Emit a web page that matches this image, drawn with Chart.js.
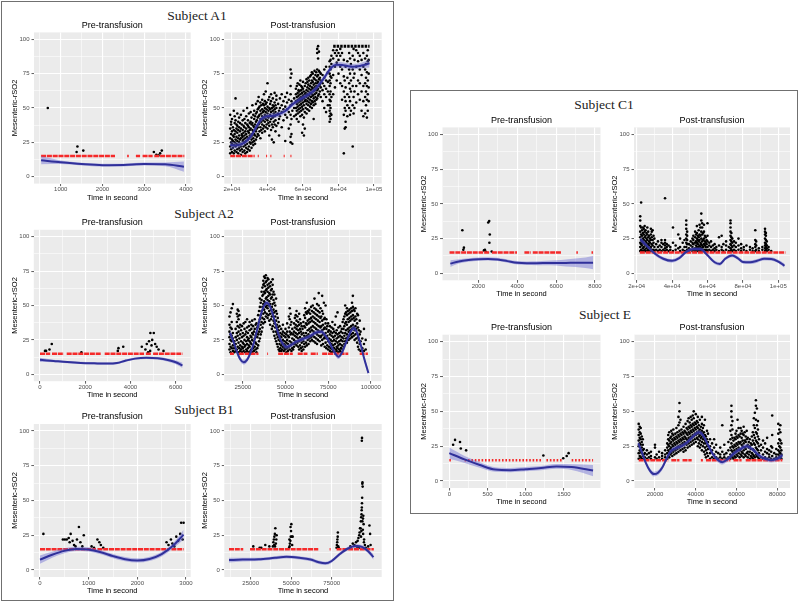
<!DOCTYPE html>
<html><head><meta charset="utf-8">
<script src="https://cdn.jsdelivr.net/npm/chart.js@4.4.0/dist/chart.umd.min.js"></script>
<style>
body{margin:0;width:800px;height:605px;position:relative;background:#fff;overflow:hidden;font-family:"Liberation Sans",Arial,sans-serif}
.box{position:absolute;border:1px solid #707070;box-sizing:border-box}
.subj{position:absolute;width:200px;text-align:center;font-family:"Liberation Serif","Times New Roman",serif;font-size:13.5px;line-height:16px;height:16px;color:#222;white-space:nowrap}
canvas{position:absolute}
</style></head><body>
<div class="box" style="left:1px;top:1px;width:393px;height:600px"></div>
<div class="box" style="left:410px;top:90px;width:388px;height:424px"></div>
<div class="subj" style="left:97px;top:8px">Subject A1</div>
<div class="subj" style="left:104px;top:206px">Subject A2</div>
<div class="subj" style="left:104px;top:402px">Subject B1</div>
<div class="subj" style="left:504px;top:97px">Subject C1</div>
<div class="subj" style="left:505px;top:307px">Subject E</div>
<script>
const RED_LEVEL = 15;
const Y_TICKS = [0,25,50,75,100];
const Y_LABELS = ['0','25','50','75','100'];

// ---------- Subject A1 ----------
const A1_PRE_XT = [1000,2000,3000,4000];
const A1_PRE_XL = ['1000','2000','3000','4000'];
const A1_PRE_PTS = [[690,50],[1400,22],[1380,18],[1540,19],[3230,18],[3290,16],[3340,15.5],[3380,17],[3420,19]];
const A1_PRE_RED = [[530,2300],[2590,2630],[2800,2900],[2960,3200],[3240,3960]];
const A1_PRE_FIT = [[530,12,9,15],[1000,10.5,9.2,11.8],[1500,9.2,8.2,10.2],[2000,8.4,7.4,9.4],[2500,8.5,7.5,9.5],[3000,9.2,8.1,10.3],[3500,9,7.6,10.4],[3950,7.3,3.6,11]];

const A1_POST_XT = [20000,40000,60000,80000,100000];
const A1_POST_XL = ['2e+04','4e+04','6e+04','8e+04','1e+05'];
const A1_POST_COLS = [
[19000,17,22,28,35,45],[19500,20,25,31,38,40],[20000,18,24,27,33,42],[20500,21,26,30,36],[21000,17,23,29,34,48],
[21500,19,25,31,39,44],[22000,22,27,33,41,57],[22500,18,24,29,35,38],[23000,20,26,32,37,46],[23500,17,23,28,34,40],
[24000,21,25,30,36,43],[24500,19,27,33,39],[25000,16,22,28,35,45],[25500,20,24,31,38,30],[26000,18,26,29,34,41],
[26500,22,27,32,37,48],[27000,19,25,30,36,42],[27500,17,23,28,33,39],[28000,21,26,31,35,44],[28500,18,24,29,38,50],
[29000,20,27,33,37,41],[29500,22,28,32,36,46],[30000,19,25,30,34,39],[30500,24,29,35,40,47],[31000,21,27,31,38,43],
[31500,25,30,34,39,52],[32000,23,28,33,37,45],[32500,26,31,36,42,48],[33000,24,30,38,44],[33500,27,33,40,46,53],
[34000,29,35,41,47],[34500,31,36,43,49,55],[35000,30,38,44,50,58],[35500,33,39,45,51],[36000,28,36,42,48,54],
[36500,34,40,46,52],[37000,32,38,44,49,56],[37500,35,41,47,53],[38000,37,43,48,52,60],[38500,33,40,45,50,55],
[39000,36,42,47,53,62],[39500,38,44,49,54],[40000,35,41,46,51,68],[40500,39,43,48,56],[41000,30,37,44,50,58],
[41500,40,45,49,53],[42000,34,42,47,55,60],[42500,27,38,44,50],[43000,36,43,48,52,57],[43500,25,40,46,51],
[44000,38,44,49,54,61],[44500,33,41,47,52],[45000,37,45,50,56,59],[46000,39,46,53],[46500,30,42,48],
[47000,44,50,57],[48000,36,47,52,60],[49000,41,49,55],[50000,26,45,51,58],[51000,43,49,54,61],[52000,35,47,56],
[53000,25,29,38,45,52,60,66,72,78],[53500,31,42,55,75],[54000,24,48,53],[55000,44,50,57],
[56000,45,50,55,60,64],[56500,42,48,53,58,66],[57000,46,51,56,61,68],[57500,40,49,54,59,63],[58000,47,52,57,62,67],
[58500,44,50,55,60,70],[59000,48,53,58,63,66],[59500,32,45,51,56,61,65],[60000,38,49,54,59,64,69],[60500,30,43,52,57,62],
[61000,35,47,55,60,66],[61500,50,56,61,68],[62000,46,53,58,63,71],[62500,49,55,60,65,69],[63000,52,57,62,67,72],
[63500,48,54,59,64,70],[64000,51,56,61,66,73],[64500,53,58,63,68,74],[65000,50,55,60,65,70,76],[65500,54,59,64,69,75],
[66000,42,52,57,62,67,72],[66500,55,60,65,71,77],[67000,53,58,63,68,74],[67500,56,61,66,70,76],[68000,57,63,68,73,78,90,93],
[68500,59,64,69,74,86,95],[69000,60,66,71,77,91],[69500,62,67,72,76],[70000,58,65,70,75],[71000,55,63,68,74],
[72000,50,60,66,72,78],[73000,47,58,64,70,80],[74000,52,62,69,76],
[75000,40,44,48,52,56,60,66,70,75,80,84],[75500,42,46,50,55,62,68,73,78,85],[76000,45,58,72,82,88],
[77000,60,74,86,92],[78000,65,80,90],[79000,70,83,88,92],[80000,75,85,90],[81000,68,80,88,93],
[82000,56,66,78,90],[83000,45,62,73,85,17],[83500,35,50,58,70],[84000,40,48,55,65,80,36],[85000,44,52,60,72,84],
[86000,50,58,68,78,90],[86500,45,55,64,75,86],[87000,48,62,70,82],[88000,22,52,66,78,88],[88500,46,58,72,93],
[89000,50,62,75,85],[90000,54,66,80,92],[91000,60,70,84,90],[92000,56,68,78,88],[93000,48,62,74,85],
[94000,44,55,66,80,90],[95000,46,58,68,78,86],[95500,52,62,72,82],[96000,43,56,66,76,88],[96500,48,60,70,84,92],[97000,55,65,75,85]
];
const A1_POST_RED = [[19000,32800],[34500,35100],[39200,39800],[41600,42200],[49100,49700],[52900,53500]];
const A1_POST_ROW95 = [[77000,97500]];
const A1_POST_FIT = [[19000,23,20,26],[22000,22.8,20.6,25],[25000,23.5,21.5,25.5],[28000,25.8,23.8,27.8],[31000,30,28,32],[34000,37,35,39],[37000,42.5,40.5,44.5],[40000,44,42,46],[43000,44.3,42.3,46.3],[46000,45.3,43.3,47.3],[50000,47.8,45.8,49.8],[54000,52.5,50.5,54.5],[58000,56,54,58],[62000,59,57,61],[66000,62.5,60.5,64.5],[70000,68.5,66.5,70.5],[73000,74,72,76],[76000,79.5,77.5,81.5],[79000,81.5,79.5,83.5],[82000,81.3,79.3,83.3],[85000,80.5,78.5,82.5],[88000,80,78,82],[91000,80.3,78.3,82.3],[94000,81.2,79,83.4],[97500,82.5,79.5,85.5]];

// ---------- Subject A2 ----------
const A2_PRE_XT = [0,2000,4000,6000];
const A2_PRE_XL = ['0','2000','4000','6000'];
const A2_PRE_PTS = [[220,17],[270,17],[420,18],[520,22],[1830,16],[3440,17],[3470,19],[3680,20],[4500,20],[4660,18],[4720,22],[4780,16],[4820,24],[4870,17],[4880,30],[4930,21],[4960,25],[5030,30],[5090,22],[5160,20],[5240,18],[5460,17]];
const A2_PRE_RED = [[0,450],[530,1050],[1180,2700],[2860,4600],[4680,4900],[5000,6300]];
const A2_PRE_FIT = [[0,10.5,9,12],[600,9.7,8.8,10.6],[1200,8.9,8.1,9.7],[1800,8.3,7.5,9.1],[2400,8,7.2,8.8],[3000,7.8,7,8.6],[3400,8.2,7.4,9],[3800,10,9.2,10.8],[4200,11.4,10.6,12.2],[4700,12,11.2,12.8],[5200,11.6,10.7,12.5],[5700,10.2,9,11.4],[6000,8.8,7.3,10.3],[6300,6.5,4.6,8.4]];

const A2_POST_XT = [25000,50000,75000,100000];
const A2_POST_XL = ['25000','50000','75000','100000'];
const A2_POST_COLS = [
[17200,18,22,27,31,36,42],[17800,16,20,25,29,34,45],[18500,19,24,28,33,38,48],[19200,17,21,26,30,51],[20000,16,19,24],
[20800,17,22,27,33],[21500,18,25,30,38,44],[22000,20,28,35,42,47],[22500,16,23,31,40,46],[23000,19,26,34,43],
[23500,17,21,29,36],[24000,18,24,32],[24500,16,20,27,35],[25000,19,23,30],[25500,17,22,28,37],[26000,20,25,33],
[26500,16,21,29,38],[27000,18,24,31],[27500,17,22,27,34,40],[28000,19,25,30],[28500,16,21,26,35],[29000,20,24,32,38],
[29500,17,23,28],[30000,18,22,27,33,36],[30500,16,25,30,39],[31000,19,21,29,35],[31500,17,24,31],[32000,20,26,33,40],
[32500,18,23,28,36],[33000,16,22,30,37],[33500,19,27,34],[34000,21,29,35,43],[34500,24,31,38,46],[35000,26,33,40,49,55],
[35500,29,36,43,52],[36000,31,38,46,54,60],[36500,34,41,49,57,63],[37000,37,44,51,58,65,68],[37500,40,47,53,60,66,71],
[38000,38,45,52,59,64,70],[38500,42,49,55,61,67,72],[39000,44,50,56,62,68],[39500,41,48,54,60,65,70],[40000,43,50,57,63,69],
[40500,39,46,53,59,66],[41000,36,44,51,58,64],[41500,40,47,55,61,67],[42000,33,42,49,56,62],[42500,35,44,51,58,65,69],
[43000,31,39,47,54,60],[43500,28,37,45,52,58],[44000,26,34,42,50],[44500,24,31,39,46,55],[45000,22,29,36,44],
[45500,20,27,34,41],[46000,18,25,32,38],[46500,17,22,28,35],[47000,19,24,30],[47500,17,21,27,33],[48000,18,23,29],
[48500,20,25,31,36],[49000,17,22,28],[49500,19,24,30],[50000,18,21,27,33],[50500,16,23,29],[51000,19,25,31,37],
[51500,17,22,28],[52000,20,27,34,42],[52500,18,24,31,40,48],[53000,21,29,36,44],[53500,17,23,30,38],[54000,19,26,33],
[54500,18,22,29],[55000,20,25,31,37],[55500,22,28,34,41],[56000,24,30,36,43],[56500,21,27,33,39,46],[57000,23,29,35,42],
[57500,20,26,32,38],[58000,18,24,30,36,44],[58500,21,27,33,40],[59000,19,25,31,37],[59500,17,23,29,35],[60000,20,26,33],
[60500,18,24,30,38],[61000,22,28,35,43],[61500,20,27,34,41,48],[62000,23,30,37,45],[62500,21,28,36,44,52],[63000,25,32,39,46],
[63500,22,29,37,45],[64000,26,33,40,47],[64500,24,31,38,44],[65000,27,34,41,49],[65500,25,32,39,46],[66000,28,35,42,50],
[66500,24,31,38,45],[67000,27,34,41,48,55],[67500,23,30,37,44],[68000,26,33,40,47],[68500,22,29,36,43,51],[69000,25,32,39,46],
[69500,28,35,42,50,59],[70000,24,31,38,45],[70500,27,34,41,48],[71000,21,28,35,42],[71500,25,32,39,46,57],[72000,22,29,36,44],
[72500,26,33,40,52],[73000,20,27,34,41],[73500,23,30,37,50],[74000,19,26,33,40],[74500,21,28,35],[75000,18,24,31,37],
[75500,20,26,32],[76000,17,23,29,35],[76500,19,25,31],[77000,16,22,28,34],[77500,18,24,30,38],[78000,17,21,27,33],
[78500,19,25,31],[79000,16,22,28,36],[79500,18,24,30,42],[80000,17,20,26,32],[80500,19,23,29,45],[81000,16,21,27,34],
[81500,18,24,30],[82000,17,22,28,35],[82500,19,25,31],[83000,16,21,27,33],[83500,18,24,30,38],[84000,20,26,33,40],
[84500,22,28,35,42],[85000,24,30,37,44,50],[85500,26,32,38,45],[86000,23,29,36,43,48],[86500,27,33,40,46],[87000,25,31,38,44],
[87500,28,34,41,47],[88000,26,32,39,45],[88500,29,35,42,48],[89000,27,33,40,46,52],[89500,30,36,43,49,57],[90000,28,34,41,47],
[90500,25,32,39,46],[91000,29,35,42,48],[91500,26,33,40],[92000,23,30,37,44],[92500,20,27,34,43],[93000,18,25,32],
[93500,22,29,39],[94000,17,24,31],[95000,19,26],[96000,17,22,33],[97000,18,25]
];
const A2_POST_RED = [[17500,19800],[22700,34200],[39300,39800],[45700,54300],[57200,62900],[64800,69000],[71500,86800],[93500,98300]];
const A2_POST_FIT = [[17500,30,27.5,32.5],[19500,24,22,26],[21500,16.5,14.8,18.2],[23500,11,9.3,12.7],[25500,8.8,7.1,10.5],[27500,10.5,8.8,12.2],[29500,15.5,13.8,17.2],[31500,23,21.3,24.7],[33500,33,31.3,34.7],[35500,43,41.3,44.7],[37500,50,48.3,51.7],[39000,52,50.3,53.7],[40500,50.5,48.8,52.2],[42500,44,42.3,45.7],[44500,35,33.3,36.7],[46500,27,25.3,28.7],[48500,22,20.3,23.7],[50500,19.8,18.1,21.5],[53000,21,19.3,22.7],[56000,23.5,21.8,25.2],[60000,25.5,23.8,27.2],[64000,27.5,25.8,29.2],[68000,30.5,28.8,32.2],[71000,31,29.3,32.7],[74000,27,25.3,28.7],[77000,20,18.3,21.7],[79500,14.5,12.8,16.2],[81000,12.8,11.1,14.5],[83000,15.5,13.8,17.2],[85500,23,21.3,24.7],[88000,30.5,28.8,32.2],[90000,33.5,31.8,35.2],[92000,30,28.3,31.7],[94000,22,20.2,23.8],[96000,12,10,14],[98600,1,-1.5,3.5]];

// ---------- Subject B1 ----------
const B1_PRE_XT = [0,1000,2000,3000];
const B1_PRE_XL = ['0','1000','2000','3000'];
const B1_PRE_PTS = [[70,26],[470,22],[510,22],[550,22],[590,23],[610,20],[630,26],[670,21],[700,18],[730,17],[760,22],[800,31],[830,20],[870,17],[900,25],[1060,17],[1110,16],[1180,22],[1220,20],[1250,18],[1300,16],[2600,20],[2640,18],[2690,22],[2720,19],[2760,17],[2800,24],[2840,21],[2880,26],[2900,34],[2950,34],[2930,22]];
const B1_PRE_RED = [[0,1150],[1180,2650],[2700,2950]];
const B1_PRE_FIT = [[0,7.5,4.5,10.5],[250,11,8.8,13.2],[500,13.8,12,15.6],[750,15.2,13.7,16.7],[1000,14.8,13.3,16.3],[1250,12.8,11.3,14.3],[1500,10,8.5,11.5],[1750,7.8,6.3,9.3],[2000,6.9,5.4,8.4],[2250,8,6.5,9.5],[2500,11.5,9.8,13.2],[2750,18,16,20],[2950,25.5,22,29]];

const B1_POST_XT = [25000,50000,75000];
const B1_POST_XL = ['25000','50000','75000'];
const B1_POST_PTS = [[26600,17],[30500,16],[31500,16],[34000,18],[36500,17],
[38700,17],[39000,20],[39300,22],[39600,24],[39900,26],[40200,30],[40000,17],[40500,19],[40800,22],[41000,25],[39500,18],
[48700,16],[49000,17],[49200,19],[49500,21],[49700,24],[49900,28],[50100,33],[50400,24],[50600,18],[49600,31],[50900,24],[48900,22],
[78000,16],[78200,18],[78400,20],[78500,22],[78700,24],[78800,27],[79000,17],[79300,16],
[86500,17],[88000,19],[89000,18],[90000,20],[90500,17],[91000,21],[91500,23],[92000,25],[92500,30],[93000,35],[93200,38],[93400,40],[93500,43],[93600,45],[93700,48],[93800,52],[93900,62],[94000,63],[94100,60],[93600,93],[93700,95],[92800,30],[93300,28],[94300,37],[94500,39],[94700,33],[95000,22],[95500,18],[96000,16],[92200,27],[91800,16],[90800,17],[94200,29],[93100,24],[94900,20],[93900,35],[94400,26],
[98300,32],[98700,26],[99000,18],[97500,17]];
const B1_POST_RED = [[11600,20400],[24600,66700],[73700,74300],[78000,101000]];
const B1_POST_FIT = [[11600,7.2,5.5,8.9],[20000,7.5,6.2,8.8],[30000,7.7,6.5,8.9],[40000,8.8,7.6,10],[47000,9.5,8.3,10.7],[55000,8.8,7.6,10],[62000,7.6,6.4,8.8],[67000,5.6,4.4,6.8],[71000,4.8,3.6,6],[75000,6.5,5.3,7.7],[80000,11.5,10.2,12.8],[85000,15.5,14.2,16.8],[90000,17.3,16,18.6],[94000,16.5,15.1,17.9],[97500,13.5,12,15],[100800,9.3,7.3,11.3]];

// ---------- Subject C1 ----------
const C1_PRE_XT = [2000,4000,6000,8000];
const C1_PRE_XL = ['2000','4000','6000','8000'];
const C1_PRE_PTS = [[1180,31],[1230,17],[1260,18.5],[2290,16.5],[2340,17],[2400,15.5],[2510,36.6],[2560,37.6],[2590,28],[2570,22],[2690,15.7]];
const C1_PRE_RED = [[520,2250],[2300,2600],[2700,3990],[4370,4700],[4800,6250],[7040,7120],[7820,7900]];
const C1_PRE_FIT = [[560,7,4.5,9.5],[1000,8.6,7,10.2],[1500,9.6,8.3,10.9],[2000,10.2,9,11.4],[2500,10.4,9.2,11.6],[3000,10,8.8,11.2],[3500,8.8,7.6,10],[4000,7.6,6.4,8.8],[4500,7.3,6,8.6],[5000,7.3,5.9,8.7],[5500,7.4,5.8,9],[6000,7.5,5.6,9.4],[6500,7.5,5,10],[7000,7.6,4.5,10.7],[7500,7.6,3.8,11.4],[7900,7.6,3,12.4]];

const C1_POST_XT = [20000,40000,60000,80000,100000];
const C1_POST_XL = ['2e+04','4e+04','6e+04','8e+04','1e+05'];
const C1_POST_COLS = [
[22000,16,19,22,26,30,34,38,41],[22500,17,21,24,28,33,51],[23000,16,20,23,27,31],[23500,18,22,25,29,33],[24000,16,19,24,28,32],
[24500,17,21,26,30,34],[25000,16,20,23,27,31],[25500,18,22,25,29],[26000,16,19,24,28,33],[26500,17,21,26,30],[27000,16,20,23,27],
[27500,18,22,25],[28000,16,19,24,28,32],[28500,17,21,26,30],[29000,16,20,24,31],[29500,17,22,27],[30000,16,19,25],[31000,17,21],
[32000,16,19,23],[33000,17,20],[34000,16,19,22,24],[35000,17,21],[36000,16,18,20,22,24,54],[37000,17,19,21],[38000,16,20],
[39000,17,19],[40500,16,22,33],[42000,17,20],[43500,18,28],[44500,16,19,25],[46000,17,22],[47000,16,19,24],
[48000,16,19,22,25,28,32,35,38],[48500,17,21,24,27,30],[49500,16,18,21],[50500,17,20,23],[51500,16,19,22,25],[52000,17,21,24,27],
[53000,16,18,22,26,30],[53500,17,20,23,28],[54000,16,19,22,25,29,34],[54500,18,21,24,27],[55000,16,19,23,26,31],[55500,17,20,24,28,35],
[56000,16,19,22,27,33],[56500,18,21,25,30,38,43],[57000,16,20,23,28,33,36],[57500,17,19,24,29],[58000,16,21,25,30,35],[58500,17,20,23,27],
[59000,16,19,22,26],[59500,17,21,24],[60000,16,19,23,27,36],[61000,17,20,22],[62000,16,19,23],[63000,17,20],[64000,16,18,21],
[65000,17,19],[66500,16,20,26],[68000,17,19,27],[69000,16,21],[70500,17,20,23],[72000,16,19],
[73000,16,18,21,24,27,30,33,36,38],[73500,17,20,23,26,29],[74000,16,19,22,25],[75000,17,20,23],[76000,16,19,22],[77500,17,20,25],
[79000,16,18,21],[80500,17,19],[82000,16,20],[84000,17,19],[85500,16,18],[87000,16,19,21,24,31],[87500,17,20,23],[89000,16,18],
[91000,17,19],[92500,16,18,20,22,25,28,30,32],[93000,17,19,21,24,27,29],[93500,16,18,20,23],[94500,17,19],[96000,16]
];
const C1_POST_RED = [[21800,104000]];
const C1_POST_FIT = [[22000,24.5,22.5,26.5],[26000,19.5,18,21],[30000,14.5,13.2,15.8],[35000,10.5,9.2,11.8],[40000,9,7.7,10.3],[44000,11,9.7,12.3],[48000,15.5,14.2,16.8],[52000,17.5,16.2,18.8],[56000,17.5,16.2,18.8],[60000,13,11.7,14.3],[64000,8,6.7,9.3],[67000,6.8,5.5,8.1],[70000,10.5,9.2,11.8],[74000,12.8,11.5,14.1],[77000,11,9.7,12.3],[80000,8.2,6.9,9.5],[84000,8,6.7,9.3],[88000,9,7.7,10.3],[92000,10.5,9.2,11.8],[96000,10.3,9,11.6],[100000,8.5,7.2,9.8],[103500,5.5,4,7]];

// ---------- Subject E ----------
const E_PRE_XT = [0,500,1000,1500];
const E_PRE_XL = ['0','500','1000','1500'];
const E_PRE_PTS = [[50,26],[75,29.5],[140,28],[150,23.3],[220,22],[1230,18.3],[1490,16.3],[1535,18],[1560,20]];
const E_PRE_RED = [[0,45],[200,1200],[1270,1470],[1600,1880]];
const E_PRE_FIT = [[0,20,16,24],[200,15.5,13,18],[400,11.5,9.5,13.5],[600,8.2,6.6,9.8],[800,7.8,6.3,9.3],[1000,8.5,7,10],[1200,9.3,7.8,10.8],[1400,10.5,8.8,12.2],[1600,10,8,12],[1880,7.5,3.5,11.5]];

const E_POST_XT = [20000,40000,60000,80000];
const E_POST_XL = ['20000','40000','60000','80000'];
const E_POST_COLS = [
[12000,16,20,25,29,33,37,41],[12500,18,22,27,31,35,39],[13000,17,21,26,30,34,38],[13500,16,20,24,28,32],[14000,18,22,26,30],
[14500,16,19,23],[15000,17,20],[16000,16,19,22],[17000,17,20],[18000,16,18,21],[20000,17,24,26],[20800,16,19],[22000,17,21],
[23500,16,18,20],[25000,17,19,22],[26000,16,20,24,27],[26500,18,22,26,30,33],[27000,17,21,25,29,35],[27500,19,23,27,31],
[28000,20,24,28,32,36],[28500,18,22,26,30,34],[29000,21,25,29,33,37],[29500,19,23,27,31],[30000,22,26,30,34],[30500,20,24,28,32,38],
[31000,23,27,31,35],[31500,21,25,29,33,40,46],[32000,24,28,32,36,42,50,56],[32500,22,26,30,34,44],[33000,25,29,33,37],
[33500,23,27,31,35],[34000,21,26,30,34,39],[34500,24,28,32,36],[35000,22,27,31,35,41],[35500,26,30,34,38],[36000,24,29,33,37,43],
[36500,27,31,35,39,45],[37000,25,30,34,38,42],[37500,28,32,36,40,46],[38000,26,31,35,39,44],[38500,29,33,37,41,47],
[39000,27,32,36,40,45,50],[39500,30,34,38,42],[40000,28,33,37,41,48],[40500,31,35,39,43],[41000,25,30,34,38,42,46],
[41500,27,32,36,40],[42000,24,29,33,37,44],[42500,26,31,35,39],[43000,22,28,32,36,41,46],[43500,25,30,34,38],[44000,21,27,31,35,40],
[44500,19,24,29,33,44],[45000,17,22,27,32],[45500,20,25,30,36],[46000,18,23,28,34],[47000,16,20,25,30],[48000,17,22,27],
[49000,16,19,24,30],[50000,17,21,26],[51000,16,20],[52000,17,19,24],[53000,16,21,40],[54000,17,19,26],[55000,16,20],[56000,17,22,28],
[57000,16,19,24,30,36],[57500,18,22,27,33,40,46,50,54],[58000,17,21,25,31,37,43],[58500,16,20,24,29],[59000,18,22,26,31],
[59500,17,21,25,30,34],[60000,19,23,27,32,36],[60500,18,22,26,31,44],[61000,20,24,28,33,38],[61500,17,22,27,32],[62000,19,23,28,34,38],
[62500,18,21,26,31,36],[63000,20,25,29,34],[63500,17,22,27,33,39],[64000,19,24,29,35],[64500,18,23,28,32],[65000,20,25,30,36],
[65500,17,21,26,31],[66000,19,24,28],[66500,16,21,25,30],[67000,18,23,27],[67500,17,20,26,32],[68000,16,19,23,29,35],
[68500,18,22,27,33,40,45],[69000,17,21,26,31,38,49],[69500,19,24,29,35,44,54,58],[70000,18,23,28,34,40,52],[70500,17,22,27,32,37,43],
[71000,16,20,25,30],[72000,17,22,26],[73000,16,19,24,29],[74000,17,21,27],[75000,16,20,23,31],[76000,17,19,22],[77000,16,21,25],
[77500,18,24,33,47],[78500,16,20],[79500,17,19,23],[80500,16,19,22,27,34,41],[81000,18,21,25,30,37],[81500,17,20,24,29,35,40],[82000,16,19,22,27]
];
const E_POST_RED = [[12000,26500],[28000,32000],[33500,38000],[42500,43500],[45000,57000],[58500,62500],[64500,82500]];
const E_POST_FIT = [[11800,27,24.5,29.5],[13500,21,19,23],[15500,13,11.3,14.7],[17500,7.5,5.8,9.2],[19500,5,3.3,6.7],[21500,6,4.3,7.7],[23500,9.5,7.8,11.2],[25500,15.5,13.8,17.2],[27500,21,19.3,22.7],[30000,23.5,21.8,25.2],[33000,25,23.3,26.7],[36000,28,26.3,29.7],[39000,32.5,30.8,34.2],[41500,35,33.3,36.7],[43500,33,31.3,34.7],[46000,26,24.3,27.7],[48500,19,17.3,20.7],[51000,15,13.3,16.7],[53000,13.5,11.8,15.2],[55500,15.5,13.8,17.2],[58500,19.5,17.8,21.2],[62000,23,21.3,24.7],[65000,25,23.3,26.7],[68000,22.5,20.8,24.2],[71000,18.5,16.8,20.2],[74000,16,14.3,17.7],[77000,15,13.3,16.7],[80000,16,14.3,17.7],[82600,18.5,16.5,20.5]];

// ---------- panel layout (page pixels of each plot area) and x ranges ----------
const PANELS = [
 {title:'Pre-transfusion', box:[34,32.4,190.7,183.6], range:[360,4112], xt:A1_PRE_XT, xl:A1_PRE_XL, pts:A1_PRE_PTS, red:A1_PRE_RED, fit:A1_PRE_FIT},
 {title:'Post-transfusion', box:[224.3,32.4,381.7,183.6], range:[15660,104340], xt:A1_POST_XT, xl:A1_POST_XL, cols:A1_POST_COLS, red:A1_POST_RED, fit:A1_POST_FIT, row95:A1_POST_ROW95},
 {title:'Pre-transfusion', box:[33.8,229.8,190.7,381.2], range:[-274,6662], xt:A2_PRE_XT, xl:A2_PRE_XL, pts:A2_PRE_PTS, red:A2_PRE_RED, fit:A2_PRE_FIT},
 {title:'Post-transfusion', box:[224.3,229.8,381.7,381.2], range:[14160,106390], xt:A2_POST_XT, xl:A2_POST_XL, cols:A2_POST_COLS, red:A2_POST_RED, fit:A2_POST_FIT},
 {title:'Pre-transfusion', box:[33.8,424,190.7,577], range:[-127,3096], xt:B1_PRE_XT, xl:B1_PRE_XL, pts:B1_PRE_PTS, red:B1_PRE_RED, fit:B1_PRE_FIT},
 {title:'Post-transfusion', box:[224.3,424,381.7,577], range:[8700,105860], xt:B1_POST_XT, xl:B1_POST_XL, pts:B1_POST_PTS, red:B1_POST_RED, fit:B1_POST_FIT},
 {title:'Pre-transfusion', box:[442.5,127.4,600.5,280.3], range:[159,8283], xt:C1_PRE_XT, xl:C1_PRE_XL, pts:C1_PRE_PTS, red:C1_PRE_RED, fit:C1_PRE_FIT},
 {title:'Post-transfusion', box:[634,127.4,790,280.3], range:[18475,106610], xt:C1_POST_XT, xl:C1_POST_XL, cols:C1_POST_COLS, red:C1_POST_RED, fit:C1_POST_FIT},
 {title:'Pre-transfusion', box:[442.5,334.7,600.5,488], range:[-89,1977], xt:E_PRE_XT, xl:E_PRE_XL, pts:E_PRE_PTS, red:E_PRE_RED, fit:E_PRE_FIT, dotted:true},
 {title:'Post-transfusion', box:[634,334.7,790,488], range:[9700,86230], xt:E_POST_XT, xl:E_POST_XL, cols:E_POST_COLS, red:E_POST_RED, fit:E_POST_FIT}
];

Chart.defaults.font.family = "'Liberation Sans', Arial, Helvetica, sans-serif";
const YW = 23.5, XH = 18.5, TH = 12.4, PR = 12;

function buildTicks(vals, labels, min, max){
  const t = vals.map((v,i)=>({value:v, lab:labels[i], m:false}));
  const step = vals[1]-vals[0];
  const minors = [];
  for (let i=0;i<vals.length-1;i++) minors.push((vals[i]+vals[i+1])/2);
  if (vals[0]-step/2 >= min) minors.push(vals[0]-step/2);
  if (vals[vals.length-1]+step/2 <= max) minors.push(vals[vals.length-1]+step/2);
  minors.forEach(v=>t.push({value:v, lab:'', m:true}));
  t.sort((a,b)=>a.value-b.value);
  return t;
}
function toPoints(pairs, cols){
  const out = [];
  (pairs||[]).forEach(p=>out.push({x:p[0], y:p[1]}));
  (cols||[]).forEach(c=>{ for (let i=1;i<c.length;i++) out.push({x:c[0], y:c[i]}); });
  return out;
}
function runs(rs, level){
  const out = [];
  rs.forEach(r=>{ out.push({x:r[0],y:level},{x:r[1],y:level},{x:r[1],y:null}); });
  return out;
}
const panelBg = {id:'panelBg', beforeDraw(c){ const a=c.chartArea, x=c.ctx; x.save(); x.fillStyle='#EBEBEB'; x.fillRect(a.left,a.top,a.right-a.left,a.bottom-a.top); x.restore(); }};

function gridOpts(){
  return {color:'#ffffff', lineWidth:c=>(c.tick&&c.tick.m)?0.55:1.1,
    tickColor:c=>(c.tick&&c.tick.m)?'rgba(0,0,0,0)':'#333333', tickLength:2.5, tickWidth:0.8, drawTicks:true};
}

PANELS.forEach(p=>{
  const [L,T,R,B] = p.box;
  const cl = Math.floor(L-YW), ct = Math.floor(T-TH);
  const W = Math.ceil(R+PR-cl), H = Math.ceil(B+XH-ct);
  const cv = document.createElement('canvas');
  cv.width = W; cv.height = H;
  cv.style.left = cl+'px'; cv.style.top = ct+'px'; cv.style.width = W+'px'; cv.style.height = H+'px';
  document.body.appendChild(cv);
  const datasets = [
    {data:p.fit.map(f=>({x:f[0],y:f[1]})), borderColor:'#30309a', borderWidth:2, pointRadius:0, cubicInterpolationMode:'monotone', fill:false, order:0},
    {data:p.fit.map(f=>({x:f[0],y:f[3]})), borderColor:'rgba(0,0,0,0)', borderWidth:0, pointRadius:0, cubicInterpolationMode:'monotone', fill:'+1', backgroundColor:'rgba(100,100,210,0.42)', order:1},
    {data:p.fit.map(f=>({x:f[0],y:f[2]})), borderColor:'rgba(0,0,0,0)', borderWidth:0, pointRadius:0, cubicInterpolationMode:'monotone', fill:false, order:1},
    {data:runs(p.red, RED_LEVEL), borderColor:'#f52a2a', borderWidth:2.5, borderDash:p.dotted?[1.6,1.8]:[5,0.8], pointRadius:0, spanGaps:false, fill:false, tension:0, order:2},
    {data:toPoints(p.pts, p.cols), showLine:false, pointRadius:1.3, pointBackgroundColor:'#000000', pointBorderWidth:0, pointBorderColor:'#000', order:3}
  ];
  if (p.row95) datasets.push({data:runs(p.row95, 95), borderColor:'#000000', borderWidth:3, borderDash:[2.5,1], pointRadius:0, spanGaps:false, fill:false, tension:0, order:3});
  new Chart(cv, {
    type:'line',
    data:{datasets},
    plugins:[panelBg],
    options:{
      responsive:false, animation:false, devicePixelRatio:1, events:[],
      layout:{autoPadding:false, padding:{left:L-YW-cl, top:T-TH-ct, right:cl+W-R, bottom:ct+H-B-XH}},
      plugins:{legend:{display:false}, tooltip:{enabled:false},
        title:{display:true, text:p.title, fullSize:false, color:'#000', font:{size:9, weight:'normal'}, padding:{top:0,bottom:1.6}}},
      scales:{
        x:{type:'linear', min:p.range[0], max:p.range[1],
           afterBuildTicks:s=>{ s.ticks = buildTicks(p.xt, p.xl, p.range[0], p.range[1]); },
           afterFit:s=>{ s.height = XH; },
           ticks:{autoSkip:false, maxRotation:0, minRotation:0, padding:0, color:'#4d4d4d', font:{size:6}, callback:(v,i,t)=>t[i]?t[i].lab:''},
           grid:gridOpts(), border:{display:false},
           title:{display:true, text:'Time in second', color:'#000', font:{size:7.5}, padding:0}},
        y:{type:'linear', min:-5, max:105,
           afterBuildTicks:s=>{ s.ticks = buildTicks(Y_TICKS, Y_LABELS, -5, 105); },
           afterFit:s=>{ s.width = YW; },
           ticks:{autoSkip:false, padding:2, color:'#4d4d4d', font:{size:6}, callback:(v,i,t)=>t[i]?t[i].lab:''},
           grid:gridOpts(), border:{display:false},
           title:{display:true, text:'Mesenteric-rSO2', color:'#000', font:{size:7.5}, padding:0}}
      }
    }
  });
});
</script>
</body></html>
